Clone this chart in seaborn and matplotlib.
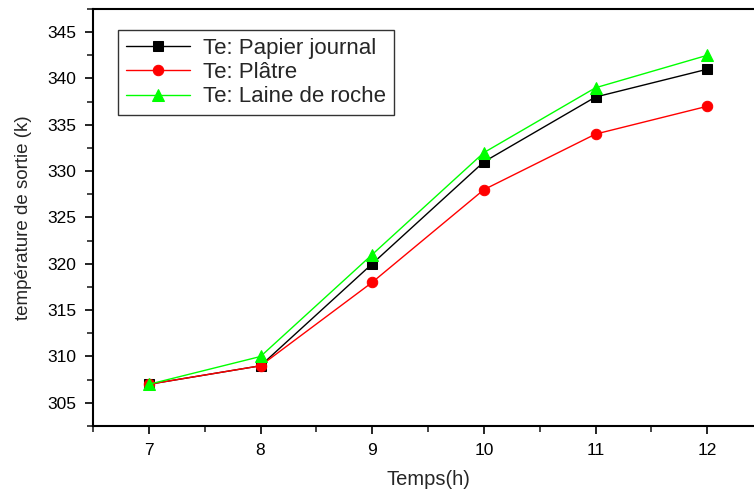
import matplotlib
matplotlib.use("Agg")
import matplotlib.pyplot as plt
import seaborn as sns
import pandas as pd
from matplotlib.ticker import MultipleLocator

# data
temps = [7, 8, 9, 10, 11, 12]
papier = [307, 309, 320, 331, 338, 341]
platre = [307, 309, 318, 328, 334, 337]
laine = [307, 310, 321, 332, 339, 342.5]

labels = ["Te: Papier journal", "Te: Plâtre", "Te: Laine de roche"]
colors = ["black", "red", "#00ff00"]
markers = ["s", "o", "^"]
sizes = [7, 7.5, 9]

sns.set_theme(style="ticks")
plt.rcParams["font.family"] = ["Liberation Sans", "DejaVu Sans"]

fig = plt.figure(figsize=(7.54, 4.92), dpi=100)
ax = fig.add_axes([93 / 754, 1 - 426 / 492, (763 - 93) / 754, (426 - 9) / 492])

for vals, lab, col, mk, ms in zip([papier, platre, laine], labels, colors, markers, sizes):
    df = pd.DataFrame({"Temps": temps, "Te": vals})
    sns.lineplot(data=df, x="Temps", y="Te", ax=ax, color=col, marker=mk,
                 markersize=ms, markeredgecolor=col, linewidth=1, label=lab)

ax.set_xlim(6.5, 12.5)
ax.set_ylim(302.5, 347.5)
ax.xaxis.set_major_locator(MultipleLocator(1))
ax.xaxis.set_minor_locator(MultipleLocator(0.5))
ax.yaxis.set_major_locator(MultipleLocator(5))
ax.yaxis.set_minor_locator(MultipleLocator(2.5))
ax.tick_params(which="major", direction="out", length=6, width=1.2, labelsize=12.5, colors="black", pad=6)
ax.tick_params(which="minor", direction="out", length=4, width=1.2)
for s in ax.spines.values():
    s.set_linewidth(1.5)
    s.set_color("black")

ax.set_xlabel("Temps(h)", fontsize=14.5, labelpad=9)
ax.set_ylabel("température de sortie (k)", fontsize=13.5, labelpad=11)

leg = ax.legend(loc="upper left", bbox_to_anchor=(0.037, 0.95), borderaxespad=0,
                fontsize=16, frameon=True, fancybox=False, edgecolor="black",
                handlelength=2.9, borderpad=0.35, labelspacing=0.15, handletextpad=0.6)
leg.get_frame().set_linewidth(1)

fig.savefig("out.png", dpi=100)
